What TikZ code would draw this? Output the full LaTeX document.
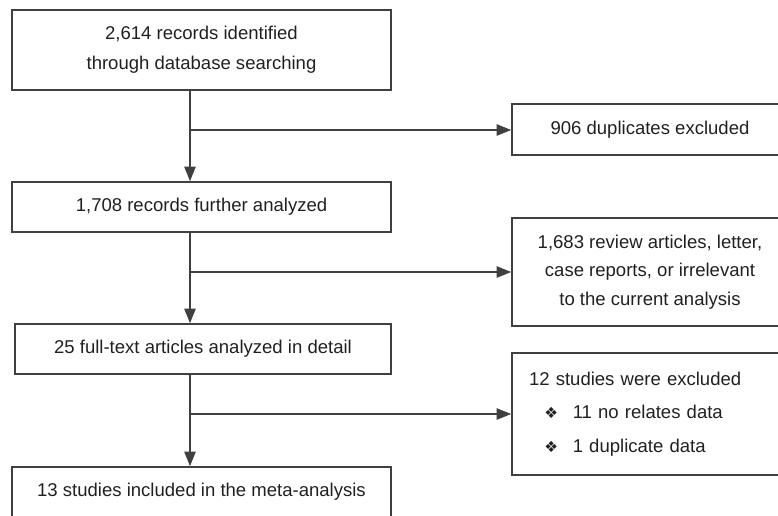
\documentclass[tikz,border=0pt]{standalone}
\usepackage{fontspec}
\setmainfont{Liberation Sans}
\newfontfamily\dingfont{DejaVu Sans}
\usetikzlibrary{arrows.meta}
\definecolor{boxline}{RGB}{64,64,64}
\definecolor{txt}{RGB}{35,31,32}
\tikzset{every picture/.style={line width=0.75pt}}
\tikzset{
  flowbox/.style={draw=boxline, line width=1.1pt, inner sep=0pt, text=txt, align=center,
    font=\fontsize{13.9}{22.5}\selectfont},
  flowline/.style={draw=boxline, line width=1.1pt},
  flowarrow/.style={flowline, -{Triangle[length=11pt,width=8.5pt]}}
}
\newcommand{\dingbullet}{{\dingfont\fontsize{11.5}{11.5}\selectfont ❖}}

\begin{document}
\begin{tikzpicture}[x=0.75pt,y=0.75pt,yscale=-1,xscale=1]
\clip (0,0) rectangle (778,515); %diagram is 778 x 515, cut at right and bottom

% Left column
\node (ident) [flowbox, minimum width=284.25pt, minimum height=60pt] at (201.5,50) {2,614 records identified\\through database searching};
\node (screen) [flowbox, minimum width=284.25pt, minimum height=37.5pt] at (201.5,207) {1,708 records further analyzed};
\node (fulltext) [flowbox, minimum width=282pt, minimum height=37.5pt] at (203,349) {25 full-text articles analyzed in detail};
\node (incl) [flowbox, minimum width=284.25pt, minimum height=37.5pt] at (201.5,492) {13 studies included in the meta-analysis};

% Right column
\node (dupl) [flowbox, minimum width=207pt, minimum height=38.25pt] at (650,129.5) {906 duplicates excluded};
\node (review) [flowbox, minimum width=207pt, minimum height=81pt, font=\fontsize{13.9}{21.4}\selectfont] at (650,272) {1,683 review articles, letter,\\case reports, or irrelevant\\to the current analysis};
\node (excl) [flowbox, align=left, text width=181.5pt, inner xsep=12.75pt, minimum height=91.5pt, font=\fontsize{13.9}{25}\selectfont] at (650,414) {12 studies were excluded\\
\hspace*{11.5pt}\dingbullet\hspace{11pt}11 no relates data\\
\hspace*{11.5pt}\dingbullet\hspace{11pt}1 duplicate data};

% Branch points
\coordinate (br1) at (190,130);
\coordinate (br2) at (190,272);
\coordinate (br3) at (190,414);

%Straight Lines
\draw [flowline] (ident.south -| br1) -- (br1);
\draw [flowarrow] (br1) -- (screen.north -| br1);
\draw [flowarrow] (br1) -- (dupl.west |- br1);
%Straight Lines
\draw [flowline] (screen.south -| br2) -- (br2);
\draw [flowarrow] (br2) -- (fulltext.north -| br2);
\draw [flowarrow] (br2) -- (review.west |- br2);
%Straight Lines
\draw [flowline] (fulltext.south -| br3) -- (br3);
\draw [flowarrow] (br3) -- (incl.north -| br3);
\draw [flowarrow] (br3) -- (excl.west |- br3);

\end{tikzpicture}
\end{document}
